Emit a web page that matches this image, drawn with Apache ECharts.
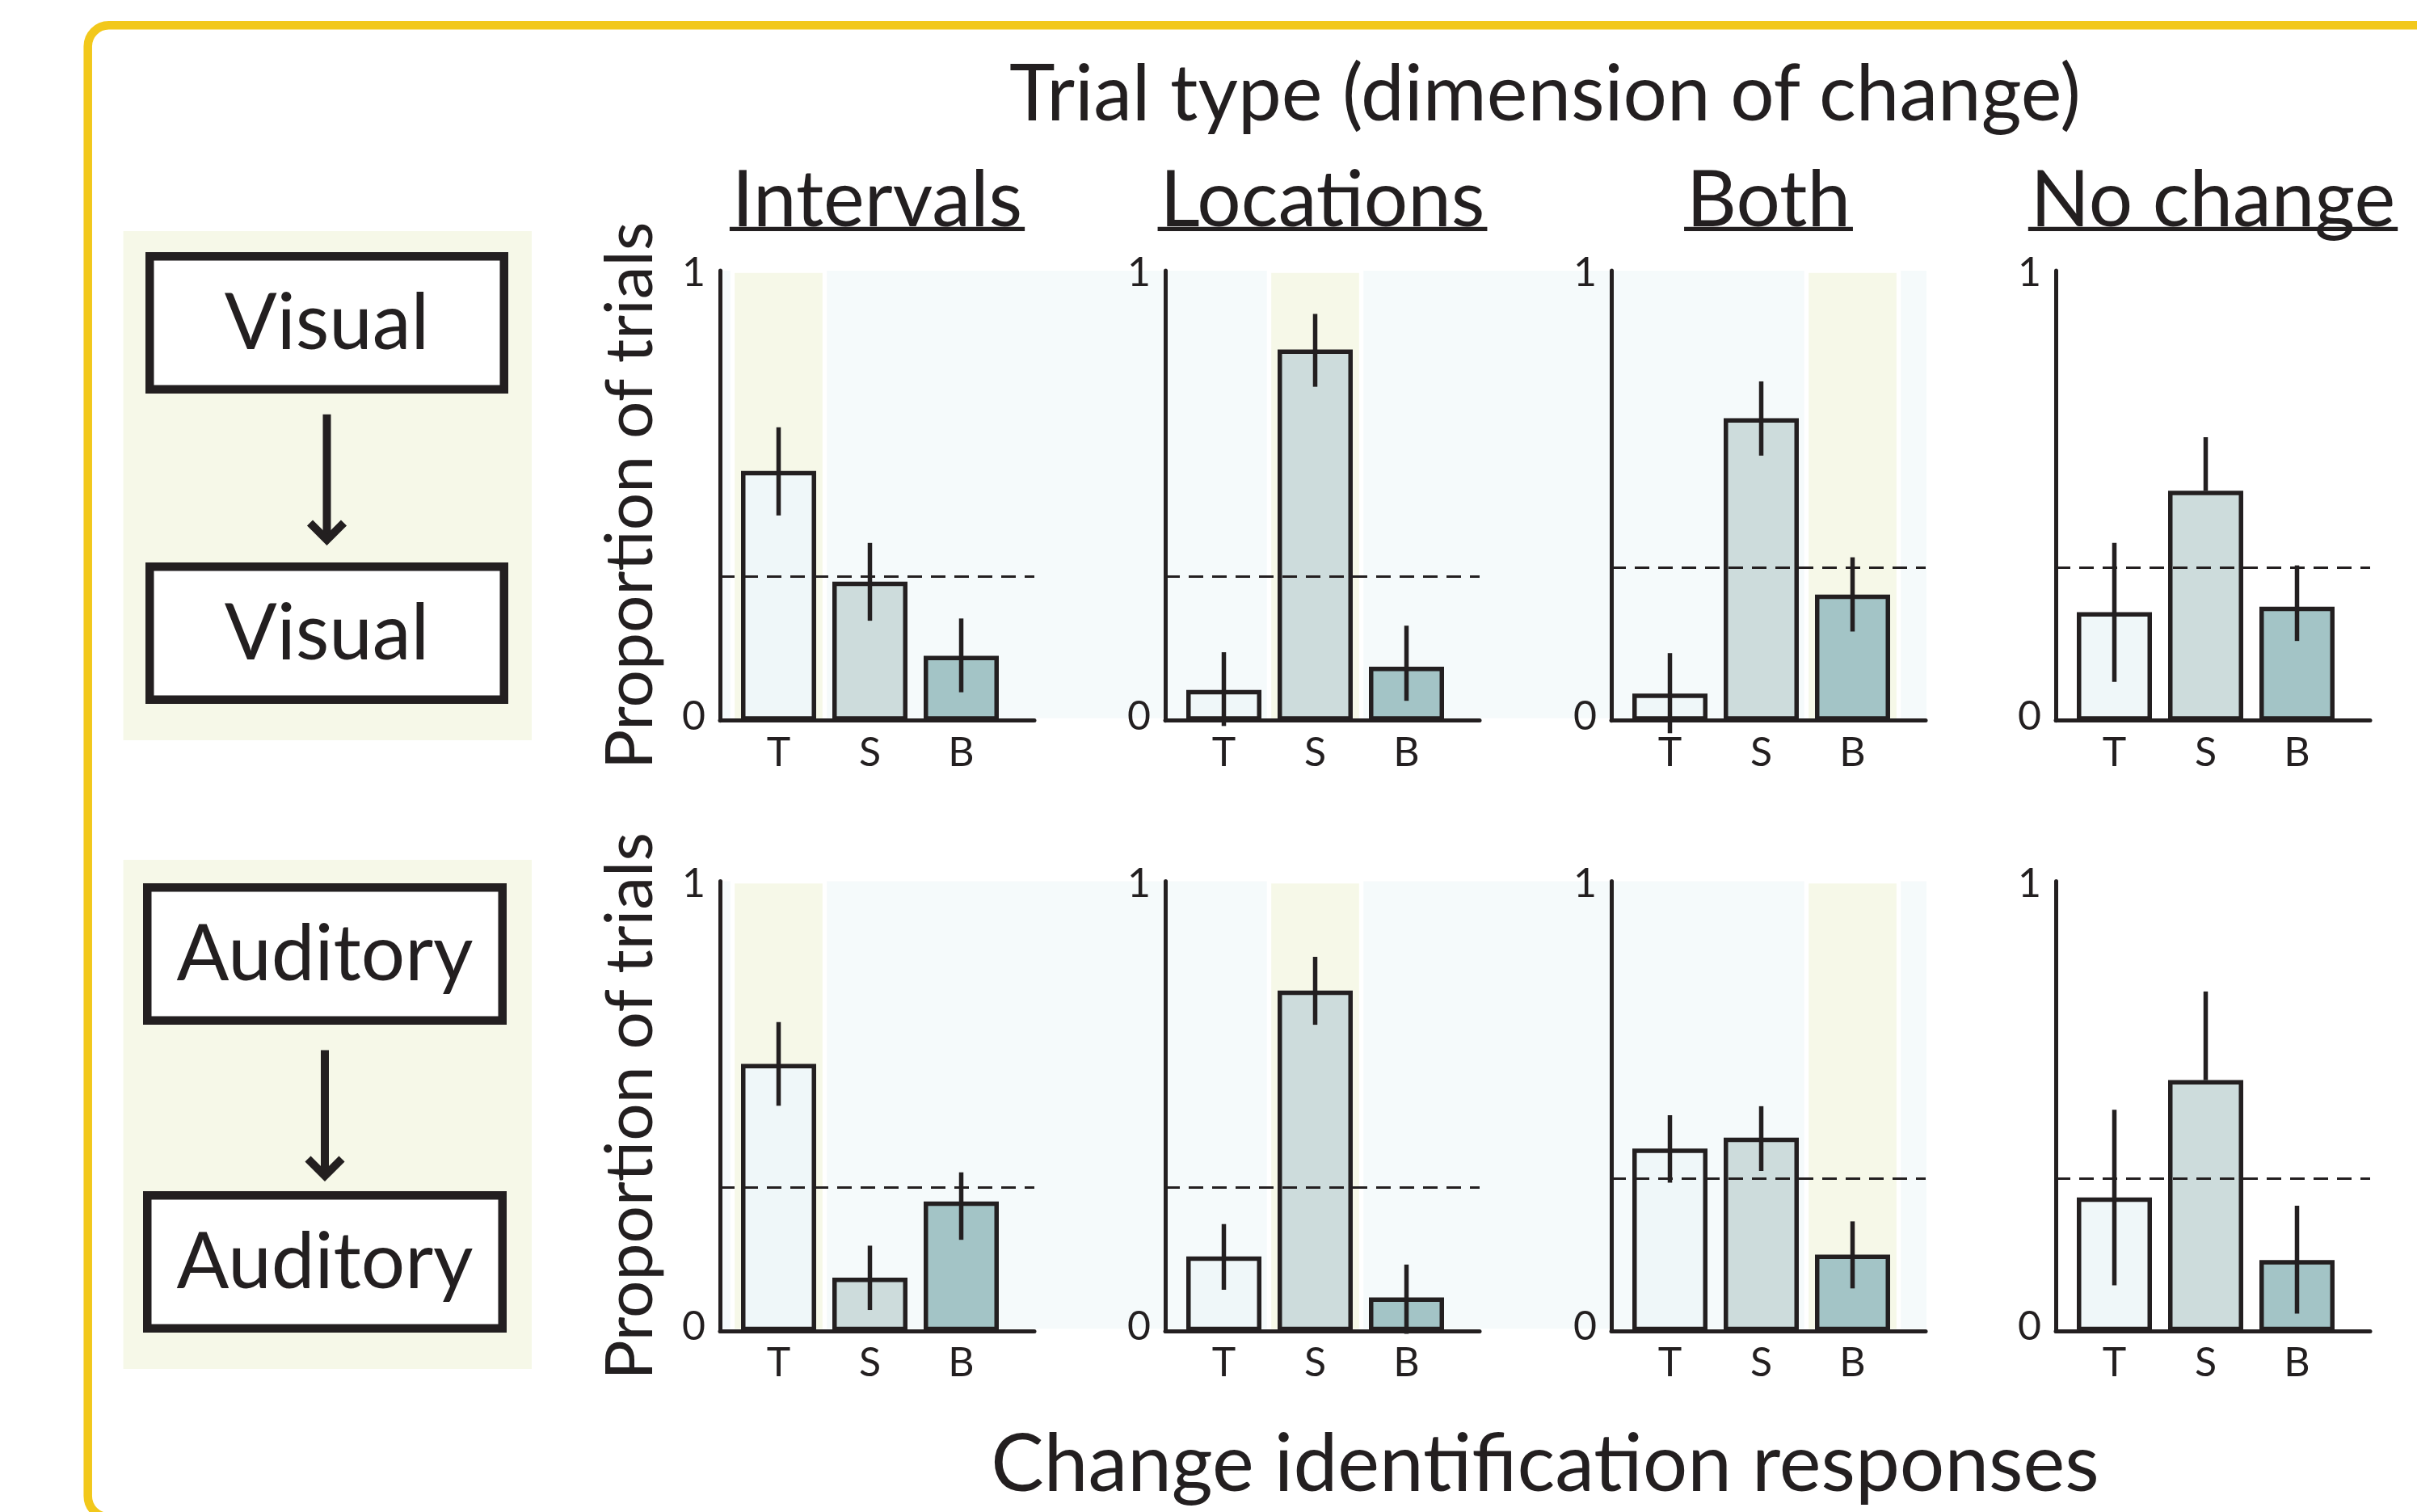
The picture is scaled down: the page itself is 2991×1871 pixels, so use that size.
<!DOCTYPE html>
<html><head><meta charset="utf-8">
<script src="https://cdn.jsdelivr.net/npm/echarts@6/dist/echarts.min.js"></script>
<style>html,body{margin:0;padding:0;background:#fff}#c{width:2991px;height:1871px}</style>
</head><body><div id="c"></div>
<script>
// ---------------- data ----------------
const categories = ['T', 'S', 'B'];
const columnTitles = ['Intervals', 'Locations', 'Both', 'No change'];
const rowNames = ['Visual', 'Auditory'];
const mainTitle = 'Trial type (dimension of change)';
const xTitle = 'Change identification responses';
const yTitle = 'Proportion of trials';
const yTickValues = [0, 1];
const highlightIndex = [0, 1, 2, null];   // correct response per trial type

// Visual -> Visual row
const vvIntervalsMean = [0.555, 0.309, 0.144];
const vvIntervalsLow  = [0.456, 0.222, 0.063];
const vvIntervalsHigh = [0.652, 0.395, 0.227];
const vvLocationsMean = [0.068, 0.825, 0.120];
const vvLocationsLow  = [-0.012, 0.742, 0.044];
const vvLocationsHigh = [0.152, 0.904, 0.211];
const vvBothMean = [0.060, 0.672, 0.280];
const vvBothLow  = [-0.028, 0.589, 0.198];
const vvBothHigh = [0.150, 0.754, 0.363];
const vvNoChangeMean = [0.241, 0.511, 0.253];
const vvNoChangeLow  = [0.086, 0.511, 0.177];
const vvNoChangeHigh = [0.395, 0.630, 0.345];
const vvChance = [0.318, 0.318, 0.339, 0.339];

// Auditory -> Auditory row
const aaIntervalsMean = [0.594, 0.119, 0.288];
const aaIntervalsLow  = [0.501, 0.047, 0.203];
const aaIntervalsHigh = [0.687, 0.190, 0.353];
const aaLocationsMean = [0.166, 0.757, 0.075];
const aaLocationsLow  = [0.092, 0.681, -0.006];
const aaLocationsHigh = [0.238, 0.832, 0.148];
const aaBothMean = [0.406, 0.430, 0.170];
const aaBothLow  = [0.330, 0.356, 0.095];
const aaBothHigh = [0.480, 0.500, 0.244];
const aaNoChangeMean = [0.297, 0.558, 0.158];
const aaNoChangeLow  = [0.102, 0.558, 0.039];
const aaNoChangeHigh = [0.492, 0.755, 0.279];
const aaChance = [0.324, 0.316, 0.338, 0.340];

// ---------------- style / layout ----------------
const INK = '#231F20';
const FONT = 'Lato';
const barColors = ['#EFF7F9', '#CDDCDC', '#A3C4C6'];
const BLUE_BG = '#F5FAFB';
const YELLOW_BG = '#F6F8E8';
const FRAME = '#F2C81B';

const X0 = [891, 1442, 1994, 2544];
const ROW_TOP = [335, 1090.5];
const PLOT_W = 389, PLOT_H = 556.7;
const FIRST = 72.5, STEP = 113;
const xMin = -FIRST / STEP, xMax = (PLOT_W - FIRST) / STEP;

const panels = [
  [vvIntervalsMean, vvIntervalsLow, vvIntervalsHigh],
  [vvLocationsMean, vvLocationsLow, vvLocationsHigh],
  [vvBothMean, vvBothLow, vvBothHigh],
  [vvNoChangeMean, vvNoChangeLow, vvNoChangeHigh],
  [aaIntervalsMean, aaIntervalsLow, aaIntervalsHigh],
  [aaLocationsMean, aaLocationsLow, aaLocationsHigh],
  [aaBothMean, aaBothLow, aaBothHigh],
  [aaNoChangeMean, aaNoChangeLow, aaNoChangeHigh]
];
const chance = [vvChance, aaChance];

const grid = [], xAxis = [], yAxis = [], series = [];
panels.forEach((p, i) => {
  const r = Math.floor(i / 4), c = i % 4;
  const [mean, low, high] = p;
  grid.push({ left: X0[c], top: ROW_TOP[r], width: PLOT_W, height: PLOT_H });
  xAxis.push({
    gridIndex: i, type: 'value', min: xMin, max: xMax, z: 10,
    axisLine: { show: true, onZero: false, lineStyle: { color: INK, width: 5 } },
    axisTick: { show: false }, splitLine: { show: false },
    axisLabel: {
      customValues: [0, 1, 2], formatter: v => categories[Math.round(v)],
      fontSize: 50, fontFamily: FONT, color: INK, margin: 12, lineHeight: 50
    }
  });
  yAxis.push({
    gridIndex: i, type: 'value', min: 0, max: 1, z: 10,
    axisLine: { show: true, onZero: false, lineStyle: { color: INK, width: 5 } },
    axisTick: { show: false }, splitLine: { show: false },
    axisLabel: {
      customValues: yTickValues, margin: 18, color: INK,
      formatter: v => (v === 0 ? '{lo|' + v + '}' : '{hi|' + v + '}'),
      rich: {
        lo: { fontSize: 50, fontFamily: FONT, color: INK, padding: [0, 0, 16, 0] },
        hi: { fontSize: 50, fontFamily: FONT, color: INK }
      }
    },
    name: c === 0 ? yTitle : '', nameLocation: 'middle', nameGap: 116, nameRotate: 90,
    nameTextStyle: { fontSize: 82, fontFamily: FONT, color: INK, verticalAlign: 'middle', align: 'center' }
  });
  const h = highlightIndex[c];
  if (h !== null) {
    series.push({
      type: 'line', xAxisIndex: i, yAxisIndex: i, data: [], z: 1, silent: true, animation: false,
      markArea: {
        silent: true, animation: false,
        itemStyle: { color: YELLOW_BG, borderColor: '#ffffff', borderWidth: 5.5 },
        data: [[{ xAxis: h - 0.505, yAxis: 0 }, { xAxis: h + 0.505, yAxis: 1 }]]
      }
    });
  }
  series.push({
    type: 'line', xAxisIndex: i, yAxisIndex: i, data: [], z: 2, silent: true, animation: false,
    markLine: {
      silent: true, animation: false, symbol: ['none', 'none'], label: { show: false },
      lineStyle: { color: INK, width: 3, type: [18, 11] },
      data: [{ yAxis: chance[r][c] }]
    }
  });
  series.push({
    type: 'bar', xAxisIndex: i, yAxisIndex: i, z: 3, barWidth: 93, animation: false,
    itemStyle: { borderColor: INK, borderWidth: 5.5 },
    data: mean.map((v, k) => ({ value: [k, v], itemStyle: { color: barColors[k] } }))
  });
  series.push({
    type: 'custom', xAxisIndex: i, yAxisIndex: i, z: 4, clip: false, animation: false,
    encode: { x: 0, y: [1, 2] },
    data: mean.map((v, k) => [k, low[k], high[k]]),
    renderItem: (params, api) => {
      const a = api.coord([api.value(0), api.value(1)]);
      const b = api.coord([api.value(0), api.value(2)]);
      return { type: 'line', shape: { x1: a[0], y1: a[1], x2: b[0], y2: b[1] },
               style: { stroke: INK, lineWidth: 5.5 } };
    }
  });
});

// ---------------- decorations ----------------
const ctx = document.createElement('canvas').getContext('2d');
function textWidth(t, size) { ctx.font = size + 'px ' + FONT; return ctx.measureText(t).width; }
function txt(t, x, y, size, extra) {
  return Object.assign({ type: 'text', x: x, y: y, silent: true,
    style: { text: t, fontSize: size, fontFamily: FONT, fill: INK, align: 'center', verticalAlign: 'middle' } }, extra || {});
}
const g = [];
// frame
g.push({ type: 'rect', silent: true, z: -5, shape: { x: 108.7, y: 31.3, width: 3000, height: 1846, r: 26 },
         style: { fill: 'none', stroke: FRAME, lineWidth: 10.5 } });
// blue background behind the first three columns
ROW_TOP.forEach(t => {
  g.push({ type: 'rect', silent: true, z: -1,
           shape: { x: X0[0] + 2, y: t, width: X0[2] + PLOT_W + 1 - (X0[0] + 2), height: PLOT_H - 3 },
           style: { fill: BLUE_BG } });
});
// left condition panels
const groupTop = [286, 1064];
const boxTops = [[312, 696], [1093, 1474]];
const boxX = [[180, 629], [177, 627]];
const arrowY = [[512.7, 669], [1299.5, 1456]];
[0, 1].forEach(r => {
  g.push({ type: 'rect', silent: true, z: -1, shape: { x: 152.6, y: groupTop[r], width: 505.4, height: 630 }, style: { fill: YELLOW_BG } });
  const [bl, br] = boxX[r];
  boxTops[r].forEach(bt => {
    g.push({ type: 'rect', silent: true, shape: { x: bl + 5.25, y: bt + 5.25, width: br - bl - 10.5, height: 175 - 10.5 },
             style: { fill: '#ffffff', stroke: INK, lineWidth: 10.5 } });
    g.push(txt(rowNames[r], (bl + br) / 2, bt + 87.5 - 5, 96));
  });
  const ax = (bl + br) / 2;
  const [a0, a1] = arrowY[r];
  g.push({ type: 'line', silent: true, shape: { x1: ax, y1: a0, x2: ax, y2: a1 - 6 }, style: { stroke: INK, lineWidth: 10 } });
  g.push({ type: 'polyline', silent: true, shape: { points: [[ax - 21, a1 - 22], [ax, a1 - 1], [ax + 21, a1 - 22]] },
           style: { stroke: INK, lineWidth: 10, fill: 'none', lineJoin: 'miter' } });
});
// titles
g.push(txt(mainTitle, 1912, 111, 96));
g.push(txt(xTitle, 1912, 1807, 98));
columnTitles.forEach((t, c) => {
  const cx = X0[c] + PLOT_W / 2;
  g.push(txt(t, cx, 242.5, 96));
  const w = textWidth(t, 96);
  g.push({ type: 'line', silent: true, shape: { x1: cx - w / 2 - 3, y1: 283.3, x2: cx + w / 2 + 3, y2: 283.3 },
           style: { stroke: INK, lineWidth: 5.3 } });
});

const chart = echarts.init(document.getElementById('c'), null, { renderer: 'svg' });
chart.setOption({
  backgroundColor: '#ffffff',
  animation: false,
  grid: grid, xAxis: xAxis, yAxis: yAxis, series: series,
  graphic: { elements: g }
});
</script></body></html>
